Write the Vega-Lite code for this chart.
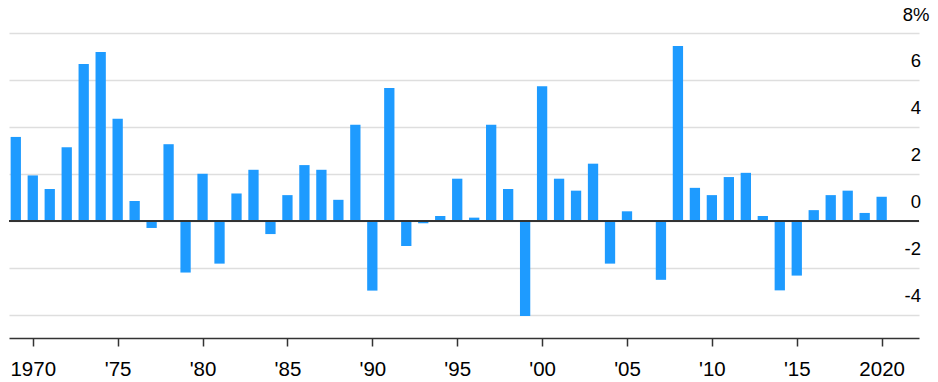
{
  "$schema": "https://vega.github.io/schema/vega-lite/v6.json",
  "width": 910,
  "height": 305,
  "autosize": {"type": "none"},
  "padding": {"left": 9, "top": 33, "right": 19, "bottom": 44},
  "background": "white",
  "config": {
    "view": {"stroke": null},
    "font": "Liberation Sans"
  },
  "data": {
    "values": [
      {"year": 1969, "value": 3.57},
      {"year": 1970, "value": 1.93},
      {"year": 1971, "value": 1.35},
      {"year": 1972, "value": 3.13},
      {"year": 1973, "value": 6.68},
      {"year": 1974, "value": 7.19},
      {"year": 1975, "value": 4.34},
      {"year": 1976, "value": 0.84},
      {"year": 1977, "value": -0.31},
      {"year": 1978, "value": 3.26},
      {"year": 1979, "value": -2.21},
      {"year": 1980, "value": 2.0},
      {"year": 1981, "value": -1.83},
      {"year": 1982, "value": 1.16},
      {"year": 1983, "value": 2.17},
      {"year": 1984, "value": -0.57},
      {"year": 1985, "value": 1.09},
      {"year": 1986, "value": 2.37},
      {"year": 1987, "value": 2.17},
      {"year": 1988, "value": 0.89},
      {"year": 1989, "value": 4.09},
      {"year": 1990, "value": -2.98},
      {"year": 1991, "value": 5.66},
      {"year": 1992, "value": -1.08},
      {"year": 1993, "value": -0.11},
      {"year": 1994, "value": 0.2},
      {"year": 1995, "value": 1.79},
      {"year": 1996, "value": 0.13},
      {"year": 1997, "value": 4.09},
      {"year": 1998, "value": 1.35},
      {"year": 1999, "value": -4.06},
      {"year": 2000, "value": 5.73},
      {"year": 2001, "value": 1.79},
      {"year": 2002, "value": 1.28},
      {"year": 2003, "value": 2.43},
      {"year": 2004, "value": -1.83},
      {"year": 2005, "value": 0.4},
      {"year": 2006, "value": -0.03},
      {"year": 2007, "value": -2.52},
      {"year": 2008, "value": 7.45},
      {"year": 2009, "value": 1.4},
      {"year": 2010, "value": 1.09},
      {"year": 2011, "value": 1.86},
      {"year": 2012, "value": 2.04},
      {"year": 2013, "value": 0.2},
      {"year": 2014, "value": -2.97},
      {"year": 2015, "value": -2.34},
      {"year": 2016, "value": 0.45},
      {"year": 2017, "value": 1.09},
      {"year": 2018, "value": 1.28},
      {"year": 2019, "value": 0.33},
      {"year": 2020, "value": 1.02}
    ]
  },
  "layer": [
    {
      "mark": {"type": "bar", "size": 10.3, "color": "#1E9BFF"},
      "encoding": {
        "x": {
          "field": "year",
          "type": "quantitative",
          "scale": {"domain": [1968.6, 2022.2], "nice": false, "zero": false, "padding": 0},
          "axis": {
            "title": null,
            "values": [1970, 1975, 1980, 1985, 1990, 1995, 2000, 2005, 2010, 2015, 2020],
            "labelExpr": "datum.value == 1970 || datum.value == 2020 ? '' + datum.value : \"'\" + substring('' + datum.value, 2)",
            "grid": false,
            "domain": true,
            "domainColor": "#333333",
            "domainWidth": 1.5,
            "ticks": true,
            "tickColor": "#333333",
            "tickWidth": 1.5,
            "tickSize": 8,
            "labelFontSize": 20.5,
            "labelColor": "#000000",
            "labelBaseline": "alphabetic",
            "labelPadding": 29,
            "labelFlush": false,
            "labelOverlap": false
          }
        },
        "y": {
          "field": "value",
          "type": "quantitative",
          "scale": {"domain": [-5, 8], "nice": false, "zero": false},
          "axis": {
            "title": null,
            "orient": "right",
            "values": [-4, -2, 0, 2, 4, 6, 8],
            "labelExpr": "datum.value == 8 ? '8%' : '' + datum.value",
            "domain": false,
            "ticks": false,
            "grid": true,
            "gridColor": "#DEDEDE",
            "gridWidth": 1.6,
            "labelAlign": "right",
            "labelBaseline": "alphabetic",
            "labelOffset": -13,
            "labelPadding": {"condition": {"test": "datum.value == 8", "value": 10}, "value": 1.5},
            "labelFontSize": 18.5,
            "labelColor": "#000000",
            "labelFlush": false,
            "labelOverlap": false
          }
        }
      }
    },
    {
      "mark": {"type": "rule", "color": "#333333", "strokeWidth": 1.5},
      "encoding": {"y": {"datum": 0, "type": "quantitative"}}
    }
  ]
}
